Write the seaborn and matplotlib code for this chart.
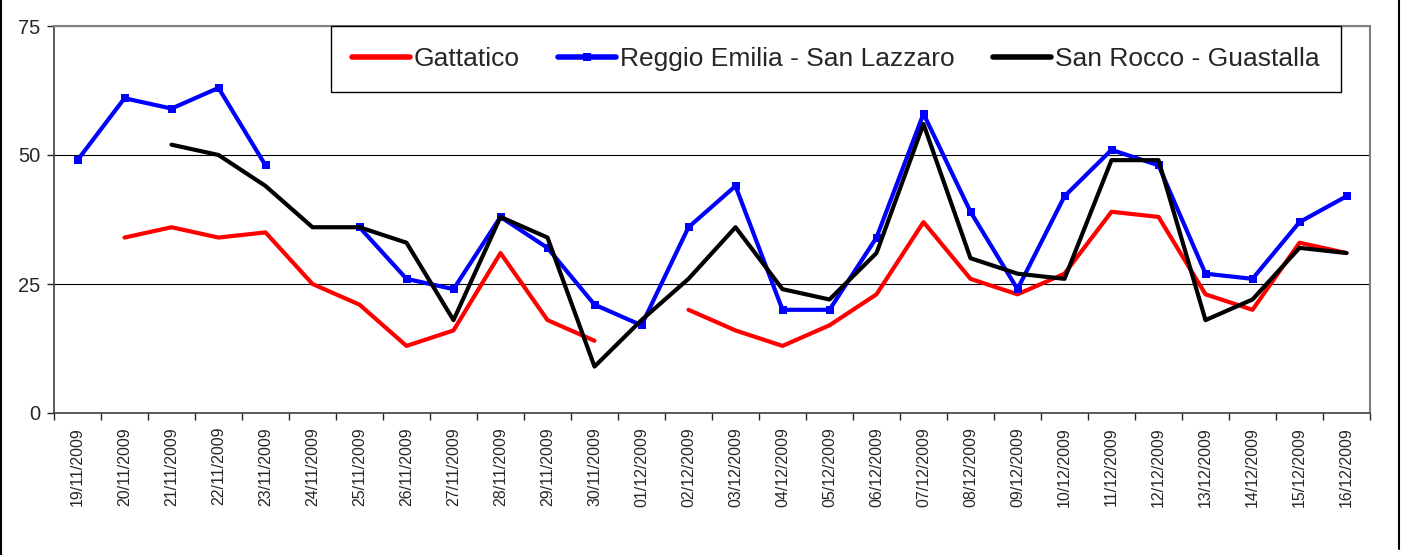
import numpy as np
import pandas as pd
import matplotlib
matplotlib.use("Agg")
import matplotlib.pyplot as plt
from matplotlib.lines import Line2D
import seaborn as sns

# date (categories)
dates = ["19/11/2009", "20/11/2009", "21/11/2009", "22/11/2009", "23/11/2009",
         "24/11/2009", "25/11/2009", "26/11/2009", "27/11/2009", "28/11/2009",
         "29/11/2009", "30/11/2009", "01/12/2009", "02/12/2009", "03/12/2009",
         "04/12/2009", "05/12/2009", "06/12/2009", "07/12/2009", "08/12/2009",
         "09/12/2009", "10/12/2009", "11/12/2009", "12/12/2009", "13/12/2009",
         "14/12/2009", "15/12/2009", "16/12/2009"]

nan = np.nan
gattatico = [nan, 34, 36, 34, 35, 25, 21, 13, 16, 31, 18, 14, nan, 20,
             16, 13, 17, 23, 37, 26, 23, 27, 39, 38, 23, 20, 33, 31]
reggio = [49, 61, 59, 63, 48, nan, 36, 26, 24, 38, 32, 21, 17, 36,
          44, 20, 20, 34, 58, 39, 24, 42, 51, 48, 27, 26, 37, 42]
san_rocco = [nan, nan, 52, 50, 44, 36, 36, 33, 18, 38, 34, 9, 18, 26,
             36, 24, 22, 31, 56, 30, 27, 26, 49, 49, 18, 22, 32, 31]

series_names = ["Gattatico", "Reggio Emilia - San Lazzaro", "San Rocco - Guastalla"]
series_values = [gattatico, reggio, san_rocco]
colors = ["#ff0000", "#0000ff", "#000000"]
markers = ["", "s", ""]

sns.set_style("white")
plt.rcParams["font.family"] = ["Liberation Sans", "DejaVu Sans"]

fig = plt.figure(figsize=(14.02, 5.55), dpi=100)
ax = fig.add_axes([54 / 1402, 1 - 413 / 555, 1316 / 1402, 387 / 555])

x = np.arange(len(dates))
for name, vals, col, mk in zip(series_names, series_values, colors, markers):
    df = pd.DataFrame({"x": x, "y": vals})
    # separate contiguous runs so gaps stay open
    df["seg"] = df["y"].isna().cumsum()
    df = df.dropna()
    sns.lineplot(data=df, x="x", y="y", units="seg", estimator=None, ax=ax,
                 color=col, linewidth=3, marker=mk if mk else None,
                 markersize=5.5, markeredgewidth=0, legend=False)

ax.set_xlim(-0.5, len(dates) - 0.5)
ax.set_ylim(0, 75)
ax.set_yticks([0, 25, 50, 75])
ax.tick_params(axis="y", labelsize=14.5, length=5, width=1, direction="out", left=True, pad=5)
ax.set_xticks(x)
ax.set_xticklabels(dates, rotation=90, fontsize=11.5)
ax.tick_params(axis="x", which="major", length=0, pad=10)
ax.set_xticks(np.arange(-0.5, len(dates)), minor=True)
ax.tick_params(axis="x", which="minor", length=5, width=1, bottom=True, direction="out")
ax.set_xlabel("")
ax.set_ylabel("")

ax.grid(axis="y", color="black", linewidth=0.8)
ax.set_axisbelow(True)
for s in ["left", "bottom"]:
    ax.spines[s].set_color("#404040")
    ax.spines[s].set_linewidth(1.2)
for s in ["top", "right"]:
    ax.spines[s].set_color("#808080")
    ax.spines[s].set_linewidth(1.5)

handles = [Line2D([], [], color=c, linewidth=4, marker=m if m else None,
                  markersize=6, markeredgewidth=0) for c, m in zip(colors, markers)]
leg = ax.legend(handles, series_names, loc="upper right", ncol=3,
                bbox_to_anchor=(1287 / 1316, 1.0), borderaxespad=0,
                fontsize=19, frameon=True, fancybox=False, framealpha=1,
                edgecolor="black", handlelength=2.2, handletextpad=0.15,
                columnspacing=1.45, borderpad=0.8)
leg.get_frame().set_linewidth(1)

fig.add_artist(Line2D([0.0008, 0.0008], [0, 1], color="black", linewidth=1.5,
                      transform=fig.transFigure))
fig.add_artist(Line2D([1399 / 1402, 1399 / 1402], [0.01, 1], color="black",
                      linewidth=1.5, transform=fig.transFigure))

fig.savefig("out.png", dpi=100)
